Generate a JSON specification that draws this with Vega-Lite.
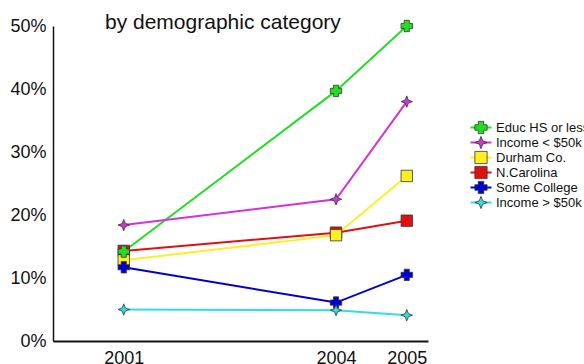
{
  "$schema": "https://vega.github.io/schema/vega-lite/v6.json",
  "width": 375,
  "height": 315,
  "autosize": "none",
  "padding": {"left": 53, "top": 26, "right": 156, "bottom": 23},
  "background": "white",
  "title": {
    "text": "by demographic category",
    "anchor": "start",
    "frame": "group",
    "dx": 52,
    "dy": 33,
    "offset": 0,
    "baseline": "alphabetic",
    "font": "Liberation Sans",
    "fontSize": 21,
    "fontWeight": "normal",
    "color": "#111"
  },
  "config": {
    "view": {"stroke": null},
    "font": "Liberation Sans"
  },
  "data": {
    "values": [
      {"series": "N.Carolina", "year": 2001, "pct": 0.143},
      {"series": "N.Carolina", "year": 2004, "pct": 0.172},
      {"series": "N.Carolina", "year": 2005, "pct": 0.191},
      {"series": "Durham Co.", "year": 2001, "pct": 0.128},
      {"series": "Durham Co.", "year": 2004, "pct": 0.168},
      {"series": "Durham Co.", "year": 2005, "pct": 0.262},
      {"series": "Educ HS or less", "year": 2001, "pct": 0.142},
      {"series": "Educ HS or less", "year": 2004, "pct": 0.397},
      {"series": "Educ HS or less", "year": 2005, "pct": 0.5},
      {"series": "Some College", "year": 2001, "pct": 0.117},
      {"series": "Some College", "year": 2004, "pct": 0.061},
      {"series": "Some College", "year": 2005, "pct": 0.105},
      {"series": "Income < $50k", "year": 2001, "pct": 0.184},
      {"series": "Income < $50k", "year": 2004, "pct": 0.225},
      {"series": "Income < $50k", "year": 2005, "pct": 0.38},
      {"series": "Income > $50k", "year": 2001, "pct": 0.05},
      {"series": "Income > $50k", "year": 2004, "pct": 0.049},
      {"series": "Income > $50k", "year": 2005, "pct": 0.041}
    ]
  },
  "encoding": {
    "x": {
      "field": "year",
      "type": "quantitative",
      "scale": {"domain": [2000, 2005.3], "nice": false, "zero": false},
      "axis": {
        "values": [2001, 2004, 2005],
        "format": "d",
        "title": null,
        "grid": false,
        "ticks": false,
        "domainColor": "#111",
        "domainWidth": 2,
        "labelFont": "Liberation Sans",
        "labelFontSize": 18,
        "labelColor": "#111",
        "labelPadding": 8,
        "labelFlush": false
      }
    },
    "y": {
      "field": "pct",
      "type": "quantitative",
      "scale": {"domain": [0, 0.5], "nice": false},
      "axis": {
        "values": [0, 0.1, 0.2, 0.3, 0.4, 0.5],
        "format": ".0%",
        "title": null,
        "grid": false,
        "ticks": false,
        "domainColor": "#111",
        "domainWidth": 1.5,
        "labelFont": "Liberation Sans",
        "labelFontSize": 18,
        "labelColor": "#111",
        "labelPadding": 7,
        "labelFlush": false
      }
    }
  },
  "layer": [
    {
      "mark": {"type": "line", "strokeWidth": 2},
      "encoding": {
        "color": {
          "field": "series",
          "type": "nominal",
          "scale": {
            "domain": ["Educ HS or less", "Income < $50k", "Durham Co.", "N.Carolina", "Some College", "Income > $50k"],
            "range": ["#22dd22", "#d433d4", "#ffee22", "#e01010", "#0000cc", "#30dde2"]
          },
          "legend": {
            "orient": "none",
            "legendX": 416.5,
            "legendY": 94,
            "title": null,
            "padding": 0,
            "symbolType": "stroke",
            "symbolSize": 441,
            "symbolStrokeWidth": 2,
            "symbolOpacity": 1,
            "clipHeight": 15,
            "rowPadding": 0,
            "labelOpacity": 0,
            "labelFontSize": 13
          }
        }
      }
    },
    {
      "mark": {"type": "point", "filled": true, "opacity": 1, "size": 130, "stroke": "#333", "strokeWidth": 0.8},
      "encoding": {
        "color": {
          "field": "series",
          "type": "nominal",
          "legend": {
            "orient": "none",
            "legendX": 421,
            "legendY": 94,
            "title": null,
            "padding": 0,
            "symbolSize": 150,
            "symbolStrokeColor": "#333",
            "symbolStrokeWidth": 0.8,
            "clipHeight": 15,
            "rowPadding": 0,
            "labelOffset": 8,
            "labelFont": "Liberation Sans",
            "labelFontSize": 13,
            "labelColor": "#111"
          }
        },
        "shape": {
          "field": "series",
          "type": "nominal",
          "scale": {
            "domain": ["Educ HS or less", "Income < $50k", "Durham Co.", "N.Carolina", "Some College", "Income > $50k"],
            "range": [
              "M-0.45,-1L0.45,-1L0.45,-0.45L1,-0.45L1,0.45L0.45,0.45L0.45,1L-0.45,1L-0.45,0.45L-1,0.45L-1,-0.45L-0.45,-0.45Z",
              "M0,-1L0.28,-0.28L1,0L0.28,0.28L0,1L-0.28,0.28L-1,0L-0.28,-0.28Z",
              "square",
              "square",
              "M-0.45,-1L0.45,-1L0.45,-0.45L1,-0.45L1,0.45L0.45,0.45L0.45,1L-0.45,1L-0.45,0.45L-1,0.45L-1,-0.45L-0.45,-0.45Z",
              "M0,-1L0.28,-0.28L1,0L0.28,0.28L0,1L-0.28,0.28L-1,0L-0.28,-0.28Z"
            ]
          },
          "legend": {
            "orient": "none",
            "legendX": 421,
            "legendY": 94,
            "title": null,
            "padding": 0,
            "symbolSize": 150,
            "symbolStrokeColor": "#333",
            "symbolStrokeWidth": 0.8,
            "clipHeight": 15,
            "rowPadding": 0,
            "labelOffset": 8,
            "labelFont": "Liberation Sans",
            "labelFontSize": 13,
            "labelColor": "#111"
          }
        }
      }
    }
  ],
  "resolve": {"legend": {"color": "independent", "shape": "independent"}}
}
